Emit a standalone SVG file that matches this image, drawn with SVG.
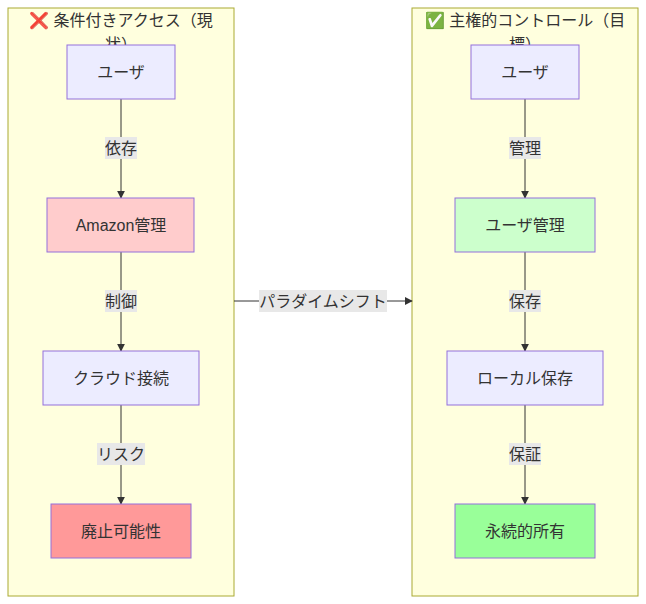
<svg xmlns="http://www.w3.org/2000/svg" width="646" height="604" viewBox="0 0 646 604">
<style>
text{font-family:"Liberation Sans","Noto Sans CJK JP",sans-serif;font-size:16px;fill:#333;text-anchor:middle;dominant-baseline:central}
.cl{fill:#ffffde;stroke:#aaaa33;stroke-width:1}
.n{stroke:#9370db;stroke-width:1;fill:#ececff}
.e{stroke:#333;stroke-width:1;fill:none;marker-end:url(#a)}
.lb{fill:#e8e8e8}
</style>
<defs><marker id="a" viewBox="0 0 10 10" refX="9" refY="5" markerWidth="8" markerHeight="8" orient="auto"><path d="M0,0L10,5L0,10z" fill="#333"/></marker></defs>
<g id="cluster-left"><rect class="cl" x="8" y="8" width="226" height="588"/><text x="121" y="20">❌ 条件付きアクセス（現</text><text x="121" y="44">状）</text></g>
<g id="cluster-right"><rect class="cl" x="412" y="8" width="226" height="588"/><text x="525" y="20">✅ 主権的コントロール（目</text><text x="525" y="44">標）</text></g>
<g id="connectors">
<path class="e" d="M121,99V198"/><rect class="lb" x="105" y="137" width="32" height="22"/><text x="121" y="148">依存</text>
<path class="e" d="M121,252V351"/><rect class="lb" x="105" y="290" width="32" height="22"/><text x="121" y="301">制御</text>
<path class="e" d="M121,405V504"/><rect class="lb" x="97" y="443" width="48" height="22"/><text x="121" y="454">リスク</text>
<path class="e" d="M525,99V198"/><rect class="lb" x="509" y="137" width="32" height="22"/><text x="525" y="148">管理</text>
<path class="e" d="M525,252V351"/><rect class="lb" x="509" y="290" width="32" height="22"/><text x="525" y="301">保存</text>
<path class="e" d="M525,405V504"/><rect class="lb" x="509" y="443" width="32" height="22"/><text x="525" y="454">保証</text>
<path class="e" d="M234,301H412"/><rect class="lb" x="259" y="290" width="128" height="22"/><text x="323" y="301">パラダイムシフト</text>
</g>
<g id="L1"><rect class="n" x="67" y="45" width="108" height="54"/><text x="121" y="72">ユーザ</text></g>
<g id="L2"><rect class="n" x="47" y="198" width="147" height="54" style="fill:#ffcccc"/><text x="121" y="225">Amazon管理</text></g>
<g id="L3"><rect class="n" x="43" y="351" width="156" height="54"/><text x="121" y="378">クラウド接続</text></g>
<g id="L4"><rect class="n" x="51" y="504" width="140" height="54" style="fill:#ff9999"/><text x="121" y="531">廃止可能性</text></g>
<g id="R1"><rect class="n" x="471" y="45" width="108" height="54"/><text x="525" y="72">ユーザ</text></g>
<g id="R2"><rect class="n" x="455" y="198" width="140" height="54" style="fill:#ccffcc"/><text x="525" y="225">ユーザ管理</text></g>
<g id="R3"><rect class="n" x="447" y="351" width="156" height="54"/><text x="525" y="378">ローカル保存</text></g>
<g id="R4"><rect class="n" x="455" y="504" width="140" height="54" style="fill:#99ff99"/><text x="525" y="531">永続的所有</text></g>
</svg>
